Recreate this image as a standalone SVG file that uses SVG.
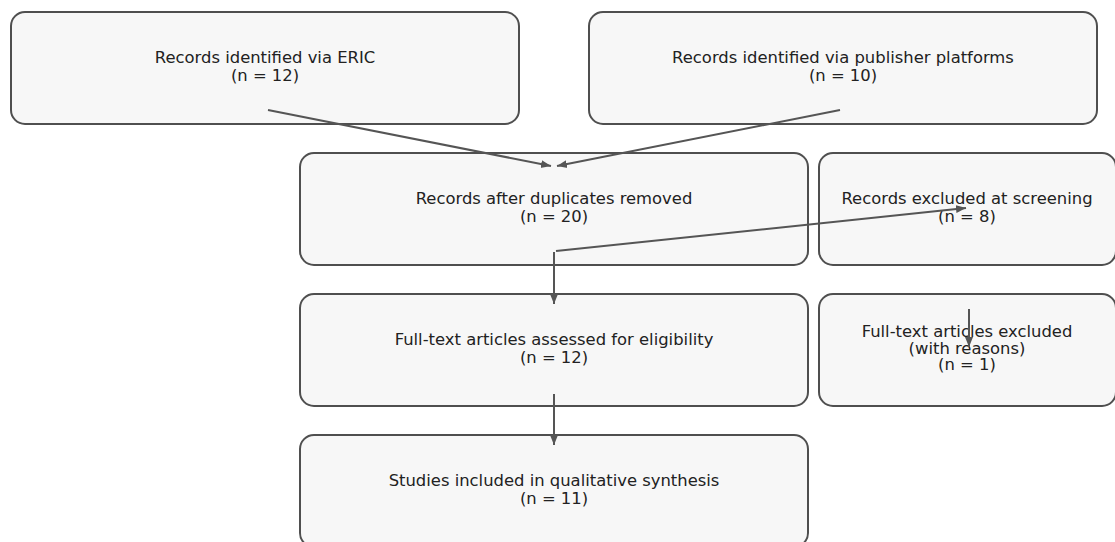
<svg xmlns="http://www.w3.org/2000/svg" width="1115" height="542" viewBox="0 0 1115 542">
<style>
.box{fill:#f7f7f7;stroke:#4f4f4f;stroke-width:2}
.t{font-family:"DejaVu Sans",sans-serif;font-size:16.4px;fill:#222;text-anchor:middle}
.c{stroke:#555;stroke-width:2;fill:none;marker-end:url(#ah)}
</style>
<defs>
<marker id="ah" markerUnits="userSpaceOnUse" markerWidth="11" markerHeight="9" refX="10" refY="4.5" orient="auto">
<path d="M0,0.5 L10,4.5 L0,8.5 z" fill="#555"/>
</marker>
</defs>
<g id="n-eric">
<rect class="box" x="11" y="12" width="508" height="112" rx="14"/>
<text class="t" x="265" y="63.3">Records identified via ERIC</text>
<text class="t" x="265" y="80.8">(n = 12)</text>
</g>
<g id="n-publisher">
<rect class="box" x="589" y="12" width="508" height="112" rx="14"/>
<text class="t" x="843" y="63.3">Records identified via publisher platforms</text>
<text class="t" x="843" y="80.8">(n = 10)</text>
</g>
<g id="n-dedup">
<rect class="box" x="300" y="153" width="508" height="112" rx="14"/>
<text class="t" x="554" y="204.3">Records after duplicates removed</text>
<text class="t" x="554" y="221.8">(n = 20)</text>
</g>
<g id="n-screen-excl">
<rect class="box" x="819" y="153" width="297" height="112" rx="14"/>
<text class="t" x="967" y="204.3">Records excluded at screening</text>
<text class="t" x="967" y="221.8">(n = 8)</text>
</g>
<g id="n-fulltext">
<rect class="box" x="300" y="294" width="508" height="112" rx="14"/>
<text class="t" x="554" y="345.3">Full-text articles assessed for eligibility</text>
<text class="t" x="554" y="362.8">(n = 12)</text>
</g>
<g id="n-ft-excl">
<rect class="box" x="819" y="294" width="297" height="112" rx="14"/>
<text class="t" x="967" y="336.7">Full-text articles excluded</text>
<text class="t" x="967" y="353.5">(with reasons)</text>
<text class="t" x="967" y="370.3">(n = 1)</text>
</g>
<g id="n-included">
<rect class="box" x="300" y="435" width="508" height="112" rx="14"/>
<text class="t" x="554" y="486.3">Studies included in qualitative synthesis</text>
<text class="t" x="554" y="503.8">(n = 11)</text>
</g>
<g id="connectors">
<line class="c" x1="268" y1="110" x2="551" y2="166"/>
<line class="c" x1="840" y1="110" x2="557" y2="166"/>
<line class="c" x1="556" y1="251" x2="966" y2="208"/>
<line class="c" x1="554" y1="252" x2="554" y2="304"/>
<line class="c" x1="969" y1="309" x2="969" y2="347"/>
<line class="c" x1="554" y1="394" x2="554" y2="445"/>
</g>
</svg>
